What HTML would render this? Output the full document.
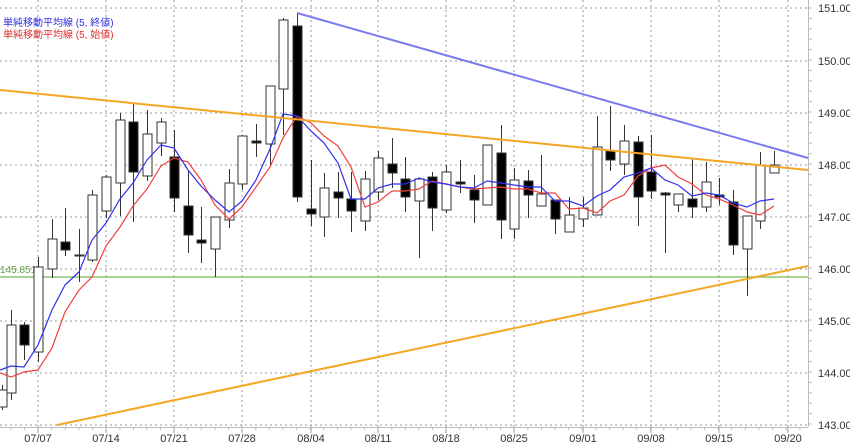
<!DOCTYPE html>
<html><head><meta charset="utf-8"><style>
html,body{margin:0;padding:0;background:#fff}
svg{display:block}
text{font-family:"Liberation Sans","Noto Sans CJK JP",sans-serif}
</style></head><body>
<svg id="s" width="850" height="446" xmlns="http://www.w3.org/2000/svg">
<rect width="850" height="446" fill="#fff"/>
<g id="grid" stroke="#999" stroke-width="1" stroke-dasharray="2,3"></g>
<g id="axis"></g>
<line x1="0" y1="277" x2="808" y2="277" stroke="#8dc36b" stroke-width="1.5"/>
<text x="0" y="273" font-size="10" fill="#6a9f45">145.851</text>
<g id="candles"></g>
<polyline id="red" fill="none" stroke="#f04040" stroke-width="1.2"/>
<polyline id="blue" fill="none" stroke="#3030f0" stroke-width="1.2"/>
<line x1="297" y1="13" x2="808" y2="158" stroke="#7b7bf0" stroke-width="2"/>
<line x1="0" y1="90" x2="808" y2="170" stroke="#f5a623" stroke-width="2"/>
<line x1="57" y1="425" x2="808" y2="266" stroke="#f5a623" stroke-width="2"/>
<text x="3" y="26" font-size="10" fill="#3030e0">単純移動平均線 (5, 終値)</text>
<text x="3" y="38" font-size="10" fill="#e03030">単純移動平均線 (5, 始値)</text>
</svg>
<script>
const NS="http://www.w3.org/2000/svg";
function el(p,t,a){const e=document.createElementNS(NS,t);for(const k in a)e.setAttribute(k,a[k]);p.appendChild(e);return e;}
const g=document.getElementById('grid'),ax=document.getElementById('axis'),s=document.getElementById('s');
const ys=[8,61,113,165,217,269,321,373,425],lab=["151.000","150.000","149.000","148.000","147.000","146.000","145.000","144.000","143.000"];
ys.forEach((y,i)=>{el(g,'line',{x1:0,y1:y,x2:808,y2:y});const t=el(s,'text',{x:818,y:y+4,'font-size':11,fill:'#333'});t.textContent=lab[i];});
const xs=[38,106,174,242,311,378,446,514,583,651,719,788],xl=["07/07","07/14","07/21","07/28","08/04","08/11","08/18","08/25","09/01","09/08","09/15","09/20"];
xs.forEach((x,i)=>{el(g,'line',{x1:x,y1:0,x2:x,y2:427});el(ax,'line',{x1:x,y1:427,x2:x,y2:433,stroke:'#999'});const t=el(s,'text',{x:x,y:442,'font-size':11,fill:'#333','text-anchor':'middle'});t.textContent=xl[i];});
el(ax,'line',{x1:0,y1:427.5,x2:808,y2:427.5,stroke:'#bbb'});
el(ax,'line',{x1:808.5,y1:0,x2:808.5,y2:427,stroke:'#bbb'});
for(let y=8;y<427;y+=10.4)el(ax,'line',{x1:808,y1:y,x2:812,y2:y,stroke:'#bbb'});
for(let x=11;x<808;x+=13.6)el(ax,'line',{x1:x,y1:427,x2:x,y2:430,stroke:'#bbb'});
// x, bodyTop, bodyBot, hi, lo, black?
const C=[[2,390,407,385,410,0],[11,325,393,310,400,0],[24,325,345,322,360,1],[38,267,352,257,362,0],[52,239,269,219,278,0],[65,242,250,208,256,1],[79,255,256,229,282,1],[92,195,260,190,262,0],[106,177,211,175,218,0],[120,120,183,113,216,0],[133,122,172,104,222,1],[147,134,176,110,181,0],[161,122,143,118,156,0],[174,157,198,130,212,1],[188,206,235,170,253,1],[201,240,243,207,263,1],[215,217,249,217,277,0],[229,183,220,169,228,0],[242,136,184,135,190,0],[256,141,143,124,157,1],[270,86,144,86,166,0],[283,20,89,18,135,0],[297,26,197,13,202,1],
[311,209,214,160,226,1],[324,188,217,173,237,0],[338,192,198,172,218,1],[351,199,211,172,232,1],[365,179,221,171,231,0],[378,158,192,151,200,0],[392,164,173,138,188,1],[405,179,197,157,212,1],[419,179,201,179,258,0],[432,177,208,172,231,1],[446,172,210,165,213,0],[460,182,184,160,193,1],[474,190,200,175,223,1],[487,145,205,145,205,0],[501,153,220,125,239,1],[514,180,229,168,239,0],[528,181,195,170,218,1],[541,194,206,155,206,0],[555,200,219,200,234,1],
[569,215,232,197,232,0],[583,208,219,197,227,0],[597,147,215,116,215,0],[610,151,160,106,171,1],[624,141,164,125,175,0],[638,142,197,136,226,1],[651,172,191,135,199,1],[665,193,195,192,253,1],[678,194,205,194,212,0],[692,199,207,158,218,1],[706,182,207,162,212,0],[719,195,197,178,205,1],[733,202,245,190,255,1],[747,216,249,216,296,0],[760,165,221,152,229,0],[774,165,173,151,173,0]];
const cg=document.getElementById('candles');
C.forEach(c=>{const[x,t,b,h,l,k]=c;el(cg,'line',{x1:x+.5,y1:h,x2:x+.5,y2:l,stroke:'#333'});el(cg,'rect',{x:x-4,y:t,width:9,height:Math.max(1,b-t),fill:k?'#000':'#fff',stroke:'#333','stroke-width':1});});
const B="0,370 11,366 24,367 38,345 52,310 65,285 79,272 92,240 106,223 120,199 133,183 147,160 161,145 174,148 188,170 201,186 215,200 229,212 242,201 256,180 270,149 283,114 297,116 311,131 324,143 338,163 351,199 365,199 378,188 392,184 405,184 419,178 432,182 446,184 460,187 474,188 487,181 501,183 514,185 528,187 541,187 555,201 569,201 583,206 597,196 610,190 624,177 638,173 651,168 665,180 678,185 692,196 706,193 719,195 733,203 747,207 760,201 774,199";
const R="0,373 11,377 24,372 38,370 52,348 65,312 79,290 92,277 106,246 120,227 133,206 147,189 161,166 174,158 188,162 201,180 215,205 229,219 242,207 256,187 270,167 283,138 297,116 311,123 324,136 338,146 351,167 365,207 378,202 392,191 405,191 419,189 432,181 446,184 460,187 474,189 487,188 501,187 514,189 528,189 541,193 555,193 569,209 583,208 597,213 610,201 624,195 638,176 651,168 665,165 678,177 692,184 706,195 719,199 733,205 747,212 760,215 774,206";
document.getElementById('blue').setAttribute('points',B);
document.getElementById('red').setAttribute('points',R);
</script>
</body></html>
